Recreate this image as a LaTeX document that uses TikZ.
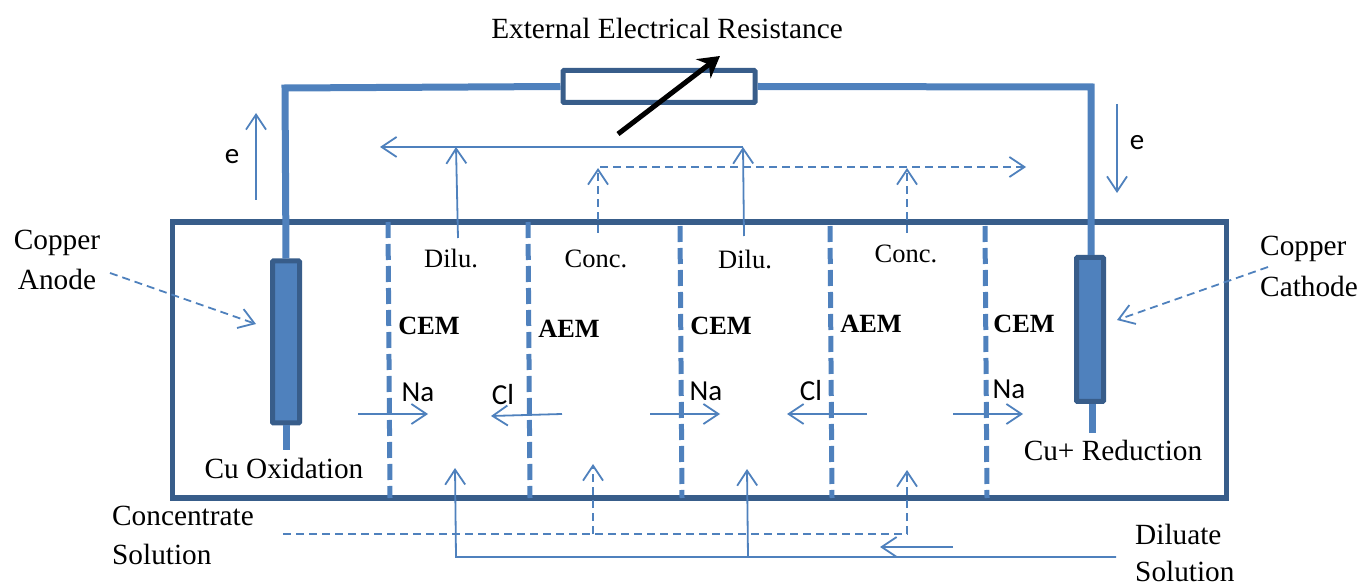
\documentclass[tikz,border=0pt]{standalone}
\usepackage{fontspec}
\usepackage{tikz}
\usetikzlibrary{arrows.meta}
\setmainfont{Liberation Serif}
\newfontfamily\calfont{Carlito}
\definecolor{lineblue}{HTML}{4F81BD}
\definecolor{darkblue}{HTML}{385D8A}
\tikzstyle{wire}=[draw=lineblue, line width=7pt]
\tikzstyle{electrode}=[rectangle, draw=darkblue, fill=lineblue, line width=5pt, rounded corners=1pt, minimum width=27pt, inner sep=0pt]
\tikzstyle{membrane}=[draw=lineblue, line width=5pt, dash pattern=on 16pt off 6pt]
\tikzstyle{flow}=[draw=lineblue, line width=1.8pt, -{Straight Barb[length=15pt,width=20pt]}]
\tikzstyle{flowdash}=[flow, dash pattern=on 8pt off 5pt]
\tikzstyle{label}=[inner sep=0pt, font=\fontsize{29.3}{29.3}\selectfont]
\tikzstyle{cell}=[inner sep=0pt, font=\fontsize{26.5}{26.5}\selectfont]
\tikzstyle{mem}=[inner sep=0pt, font=\fontsize{26.3}{26.3}\selectfont\bfseries]
\tikzstyle{ion}=[inner sep=0pt, font=\fontsize{29}{29}\selectfont\calfont]

\begin{document}
\begin{tikzpicture}[x=1pt, y=-1pt]
    \useasboundingbox (0, 0) rectangle (1361, 585);
    % tank
    \node[rectangle, draw=darkblue, line width=5.5pt, minimum width=1054pt, minimum height=276pt, inner sep=0pt] (tank) at (699.5, 360) {};
    % membranes
    \coordinate (m1t) at (388, 222); \coordinate (m1b) at (390, 498);
    \coordinate (m2t) at (528, 222); \coordinate (m2b) at (530, 498);
    \coordinate (m3t) at (680, 226); \coordinate (m3b) at (682, 498);
    \coordinate (m4t) at (830, 226); \coordinate (m4b) at (832, 498);
    \coordinate (m5t) at (985, 226); \coordinate (m5b) at (987, 498);
    \draw[membrane] (m1t)--(m1b);
    \draw[membrane] (m2t)--(m2b);
    \draw[membrane] (m3t)--(m3b);
    \draw[membrane] (m4t)--(m4b);
    \draw[membrane] (m5t)--(m5b);
    % circuit
    \node[rectangle, draw=darkblue, line width=5pt, rounded corners=1pt, minimum width=192pt, minimum height=32pt, inner sep=0pt] (res) at (659, 86.5) {};
    \node[electrode, minimum height=162pt] (anode) at (286, 342) {};
    \node[electrode, minimum height=144pt] (cathode) at (1090, 329.5) {};
    \coordinate (cl) at (285, 88);
    \coordinate (cr) at (1091, 87);
    \coordinate (al) at (286, 450);
    \coordinate (cb) at (1092, 433);
    \draw[wire, line join=miter] (anode.north)--(cl)--(res.west);
    \draw[wire, line join=miter] (cathode.north -| cr)--(cr)--(res.east);
    \draw[lineblue, line width=7pt] (anode.south)--(al);
    \draw[lineblue, line width=7pt] (cathode.south -| cb)--(cb);
    \coordinate (vs) at (618, 134);
    \coordinate (ve) at (720, 56);
    \draw[black, line width=5pt, -{Stealth[length=21pt,width=24pt,inset=7pt]}] (vs)--(ve);
    % electron flow
    \coordinate (e1s) at (256, 200); \coordinate (e1e) at (256, 113);
    \coordinate (e2s) at (1117, 104); \coordinate (e2e) at (1117, 193);
    \draw[flow] (e1s)--(e1e);
    \draw[flow] (e2s)--(e2e);
    % top outlets
    \coordinate (d1s) at (458, 238); \coordinate (d1e) at (456, 147);
    \coordinate (d2s) at (744, 236); \coordinate (d2e) at (743, 147);
    \coordinate (dl) at (380, 147);
    \coordinate (c1s) at (598, 233); \coordinate (c1e) at (598, 168);
    \coordinate (c2s) at (907, 233); \coordinate (c2e) at (907, 168);
    \coordinate (ct) at (600, 167); \coordinate (cr2) at (1026, 167);
    \draw[flow] (d1s)--(d1e);
    \draw[flow] (d2s)--(d2e);
    \draw[flow] (d2e)--(dl);
    \draw[flowdash] (c1s)--(c1e);
    \draw[flowdash] (c2s)--(c2e);
    \draw[flowdash] (ct)--(cr2);
    % ions
    \coordinate (n1s) at (358, 414); \coordinate (n1e) at (428, 414);
    \coordinate (l1s) at (562, 414); \coordinate (l1e) at (491, 416);
    \coordinate (n2s) at (650, 414); \coordinate (n2e) at (720, 414);
    \coordinate (l2s) at (867, 414); \coordinate (l2e) at (787, 414);
    \coordinate (n3s) at (953, 414); \coordinate (n3e) at (1023, 414);
    \draw[flow] (n1s)--(n1e);
    \draw[flow] (l1s)--(l1e);
    \draw[flow] (n2s)--(n2e);
    \draw[flow] (l2s)--(l2e);
    \draw[flow] (n3s)--(n3e);
    % bottom inlets
    \coordinate (cin) at (283, 534);
    \coordinate (cc) at (907, 534); \coordinate (cce) at (907, 470);
    \coordinate (cm) at (593, 534); \coordinate (cme) at (593, 464);
    \coordinate (din) at (1116, 557);
    \coordinate (dc) at (456, 557); \coordinate (dce) at (455, 468);
    \coordinate (dm) at (748, 557); \coordinate (dme) at (747, 469);
    \coordinate (bs) at (953, 547); \coordinate (be) at (880, 547);
    \draw[flowdash] (cin)--(cc)--(cce);
    \draw[flowdash] (cm)--(cme);
    \draw[flow] (din)--(dc)--(dce);
    \draw[flow] (dm)--(dme);
    \draw[flow] (bs)--(be);
    % electrode pointers
    \coordinate (pa) at (110, 273); \coordinate (pae) at (256, 324);
    \coordinate (pc) at (1268, 267); \coordinate (pce) at (1117, 320);
    \draw[flowdash] (pa)--(pae);
    \draw[flowdash] (pc)--(pce);
    % labels
    \node[label] (title) at (667, 28) {External Electrical Resistance};
    \node[label] (ca) at (57, 243) {Copper};
    \node[label] (an) at (57, 279) {Anode};
    \node[label, anchor=west] (cc1) at (1260, 249) {Copper};
    \node[label, anchor=west] (cc2) at (1260, 286) {Cathode};
    \node[label, anchor=west] (cs1) at (112, 516) {Concentrate};
    \node[label, anchor=west] (cs2) at (112, 554) {Solution};
    \node[label, anchor=west] (ds1) at (1135, 534) {Diluate};
    \node[label, anchor=west] (ds2) at (1135, 571) {Solution};
    \node[label] (ox) at (284, 468) {Cu Oxidation};
    \node[label] (rd) at (1113, 450) {Cu+ Reduction};
    \node[cell] (t1) at (451, 258) {Dilu.};
    \node[cell] (t2) at (596, 259) {Conc.};
    \node[cell] (t3) at (745, 259) {Dilu.};
    \node[cell] (t4) at (906, 254) {Conc.};
    \node[mem] (k1) at (429, 326) {CEM};
    \node[mem] (k2) at (569, 329) {AEM};
    \node[mem] (k3) at (721, 326) {CEM};
    \node[mem] (k4) at (871, 324) {AEM};
    \node[mem] (k5) at (1024, 324) {CEM};
    \node[ion] (i1) at (418, 392) {Na};
    \node[ion] (i2) at (503, 395) {Cl};
    \node[ion] (i3) at (706, 391) {Na};
    \node[ion] (i4) at (811, 391) {Cl};
    \node[ion] (i5) at (1009, 389) {Na};
    \node[ion] (e1) at (232, 157) {e};
    \node[ion] (e2) at (1137, 143) {e};
\end{tikzpicture}
\end{document}
